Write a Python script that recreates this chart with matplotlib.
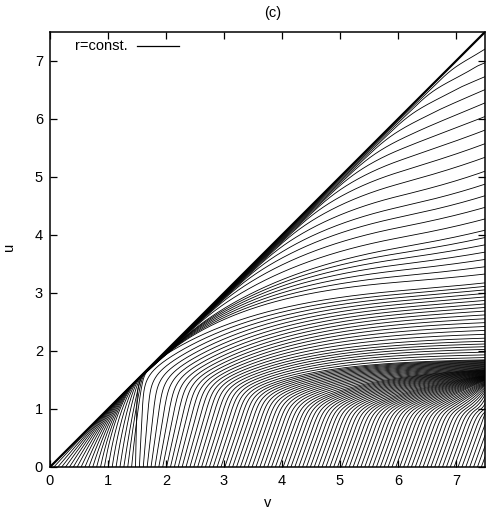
import numpy as np
import matplotlib
matplotlib.use("Agg")
import matplotlib.pyplot as plt
from matplotlib.lines import Line2D

plt.rcParams['font.family'] = ['Liberation Sans', 'DejaVu Sans']

# values
v_max = 7.5
line_step = 0.067     # spacing of the r=const lines along u=0
n_lines = 112
hug_limit = 1.45      # lines starting left of this run into the centre line

# lines that run into the centre line and peel off again further up
hug_level = [0.0, 0.3, 0.7, 1.0, 1.45]
hug_merge_u = [1.1, 1.21, 1.37, 1.48, 1.65]
hug_peel_u = [7.1, 5.2, 3.3, 2.1, 1.7]
hug_edge_u = [7.4, 6.4, 5.0, 4.1, 3.25]

# lines that climb from u=0 and bend over near the horizon
bend_level = [1.45, 2.0, 2.5, 3.0, 4.0, 5.0, 6.0, 6.5, 7.0, 7.5]
bend_u = [1.6, 1.5, 1.42, 1.3, 1.1, 1.02, 1.0, 1.0, 1.0, 1.0]
bend_slope = [0.8, 0.65, 0.52, 0.45, 0.45, 0.42, 0.4, 0.4, 0.4, 0.4]
bend_edge_u = [3.2, 2.7, 2.2, 1.85, 1.68, 1.58, 1.5, 1.42, 1.25, 1.1]

# late upturn of the upper lines near the right edge
upturn_start_v = 6.0
upturn_size = 0.18

ticks = [0, 1, 2, 3, 4, 5, 6, 7]


def softmax(a, b, k):
    m = np.maximum(a, b)
    return m + np.log(np.exp(k * (a - m)) + np.exp(k * (b - m))) / k


def solve_beta(R):
    lo, hi = -40.0, 60.0
    for _ in range(80):
        mid = 0.5 * (lo + hi)
        f = mid / (1 - np.exp(-mid)) if abs(mid) > 1e-9 else 1.0
        if f < R:
            lo = mid
        else:
            hi = mid
    return 0.5 * (lo + hi)


def out_v(u, v1, u1, s1, e):
    # v along the curve leaving (v1,u1) with slope s1 and reaching (v_max, e)
    e = max(e, u1 + 1e-3)
    R = s1 * (v_max - v1) / (e - u1)
    beta = solve_beta(R)
    y = np.clip((u - u1) / (e - u1), 0, 1)
    if abs(beta) < 1e-6:
        x = y
    else:
        x = -np.log(1 - y * (1 - np.exp(-beta))) / beta
    v = v1 + (v_max - v1) * x
    return np.where(u < u1, v1 + (u - u1) / s1, v)


def u_grid(top):
    # dense near the top end, where the lines run almost flat
    return np.unique(np.concatenate([np.linspace(0, top, 3000),
                                     top - top * np.geomspace(1e-7, 1, 3000)]))


def upturn(v, u):
    return (upturn_size * np.clip((u - 2.5) / 2.5, 0, 1)
            * np.clip((v - upturn_start_v) / (v_max - upturn_start_v), 0, 1) ** 2
            * np.clip((v - u) / 0.6, 0, 1))


fig = plt.figure(figsize=(4.99, 5.14), dpi=100)
ax = fig.add_axes([50 / 499, 47 / 514, 435 / 499, 435 / 514])

kappa = 0.08
for k in range(1, n_lines + 1):
    L = k * line_step
    if L < hug_limit:
        um = np.interp(L, hug_level, hug_merge_u)
        p = np.clip(0.85 * um / L, 1.05, 1.3)
        up = np.interp(L, hug_level, hug_peel_u)
        e = np.interp(L, hug_level, hug_edge_u)
        e = e - upturn(v_max, e)
        u = u_grid(e)
        d = np.clip(u - um, 0, None)
        gap = np.where(u < um, L * np.clip(1 - u / um, 0, None) ** p,
                       kappa * L * d ** 2 / (0.5 + d))
        v_hug = u + gap
        v1 = np.interp(up, u, v_hug)
        slope_hug = 1 / np.interp(up, u, np.gradient(v_hug, u))
        v_out = out_v(u, v1, up, 0.92 * slope_hug, e)
        v = softmax(v_hug, v_out, 20)
    else:
        g = max(0.36 * (1 - np.exp(-(L - hug_limit) / 0.6)), 0.02)
        ub = np.interp(L, bend_level, bend_u)
        s1 = np.interp(L, bend_level, bend_slope)
        e = np.interp(L, bend_level, bend_edge_u)
        e = e - upturn(v_max, e)
        vb = L + g * ub
        if vb < v_max:
            u = u_grid(e)
            v = softmax(L + g * u, out_v(u, vb, ub, s1, e), 7)
        else:
            u = np.linspace(0, (v_max - L) / g, 500)
            v = L + g * u
    # upper lines turn up again close to the right edge
    u = u + upturn(v, u)
    ok = (v <= v_max + 1e-9) & (u <= v)
    ax.plot(np.minimum(v[ok], v_max), u[ok], color='black', lw=0.6)

# centre line u=v
ax.plot([0, v_max], [0, v_max], color='black', lw=1.6)

ax.set_xlim(0, v_max)
ax.set_ylim(0, v_max)
ax.set_xticks(ticks)
ax.set_yticks(ticks)
ax.tick_params(direction='in', length=5, width=0.9, top=True, right=True,
               labelsize=10.5, pad=5)
for sp in ax.spines.values():
    sp.set_linewidth(1.1)

fig.text(273 / 499, 1 - 13 / 514, '(c)', ha='center', va='center', fontsize=10.5)
fig.text(268 / 499, 1 - 503 / 514, 'v', ha='center', va='center', fontsize=10.5)
fig.text(9 / 499, 1 - 247 / 514, 'u', ha='center', va='center', fontsize=10.5,
         rotation=90)

# key, gnuplot style: text then sample line
fig.text(128 / 499, 1 - 46 / 514, 'r=const.', ha='right', va='center', fontsize=10.5)
fig.add_artist(Line2D([137 / 499, 179 / 499], [1 - 46 / 514, 1 - 46 / 514],
                      color='black', lw=0.9))

fig.savefig('out.png', dpi=100)
